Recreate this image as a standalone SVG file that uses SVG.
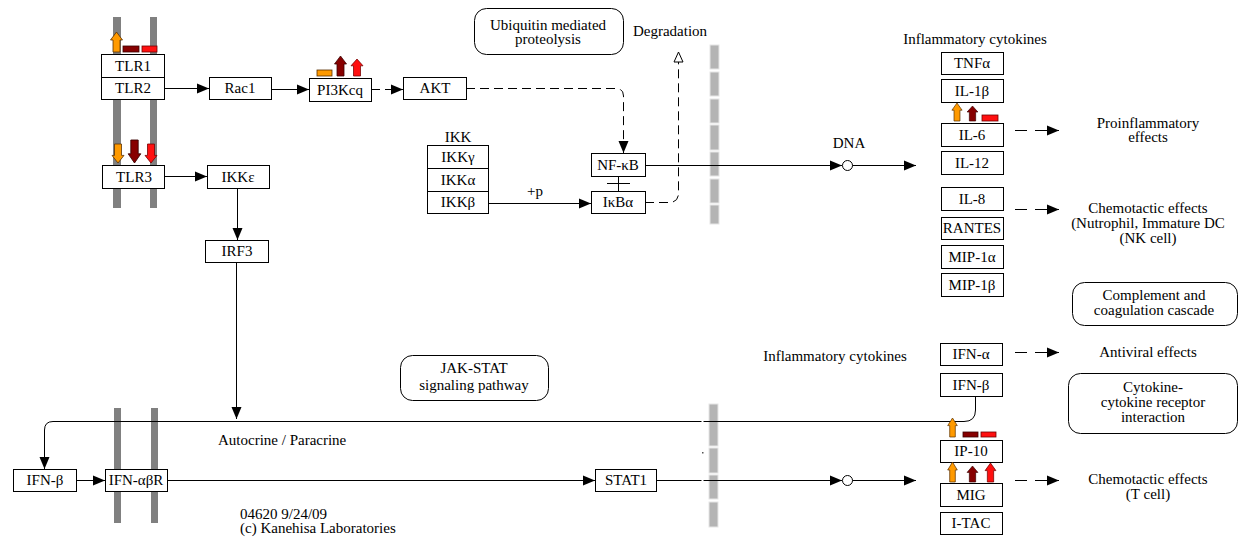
<svg xmlns="http://www.w3.org/2000/svg" xmlns:xlink="http://www.w3.org/1999/xlink" width="1239" height="537" viewBox="0 0 1239 537" font-family="'Liberation Serif', 'DejaVu Serif', serif" font-size="15">
<style>
text{font-family:"Liberation Serif","DejaVu Serif",serif;font-size:15px;fill:#000}
.c{text-anchor:middle}
.box{fill:#fff;stroke:#000;stroke-width:1}
.rbox{fill:#fff;stroke:#000;stroke-width:1}
.ln{fill:none;stroke:#000;stroke-width:1}
.dsh{fill:none;stroke:#000;stroke-width:1;stroke-dasharray:12,8}
.dsh2{fill:none;stroke:#000;stroke-width:1;stroke-dasharray:9,5}
.mem{fill:#808080}
.col{fill:#b4b4b4;stroke:#e6e6e6;stroke-width:1}
.org{fill:#ff9a00;stroke:#5a3000;stroke-width:0.8}
.dkr{fill:#870000;stroke:#3a0000;stroke-width:0.8}
.red{fill:#ff1010;stroke:#700000;stroke-width:0.8}
</style>
<defs>
<marker id="ah" markerUnits="userSpaceOnUse" markerWidth="14" markerHeight="12" refX="12" refY="5.5" orient="auto">
<path d="M0,0.5 L12,5.5 L0,10.5 Z" fill="#000"/>
</marker>
<marker id="oah" markerUnits="userSpaceOnUse" markerWidth="14" markerHeight="14" refX="11" refY="6" orient="auto">
<path d="M1,1.5 L11,6 L1,10.5 Z" fill="#fff" stroke="#000" stroke-width="1"/>
</marker>
<path id="up" d="M0,0 L6,8 L3.5,8 L3.5,20 L-3.5,20 L-3.5,8 L-6,8 Z"/>
</defs>

<g id="membranes">
<rect class="mem" x="113" y="17" width="8" height="191"/>
<rect class="mem" x="150" y="17" width="7" height="191"/>
<rect class="mem" x="114" y="408" width="7" height="115"/>
<rect class="mem" x="151" y="408" width="7" height="115"/>
</g>
<g id="nuclear-membrane">
<rect class="col" x="710" y="45" width="9" height="24"/>
<rect class="col" x="710" y="72" width="9" height="24"/>
<rect class="col" x="710" y="99" width="9" height="24"/>
<rect class="col" x="710" y="125" width="9" height="25"/>
<rect class="col" x="710" y="152" width="9" height="24"/>
<rect class="col" x="710" y="179" width="9" height="24"/>
<rect class="col" x="710" y="205" width="9" height="19"/>
<rect class="col" x="709" y="404" width="9" height="42"/>
<rect class="col" x="709" y="448" width="9" height="25"/>
<rect class="col" x="709" y="475" width="9" height="24"/>
<rect class="col" x="709" y="502" width="9" height="25"/>
<rect x="702" y="452" width="1.5" height="1.5" fill="#555"/>
</g>

<g id="connectors">
<path class="ln" d="M164,88.5 H209" marker-end="url(#ah)"/>
<path class="ln" d="M271,89.5 H309" marker-end="url(#ah)"/>
<path class="dsh2" d="M371,89.5 H403" marker-end="url(#ah)"/>
<path class="dsh2" d="M466,88.5 H616 Q623.5,88.5 623.5,96 V153" marker-end="url(#ah)"/>
<path class="ln" d="M164,176.5 H207" marker-end="url(#ah)"/>
<path class="ln" d="M237.5,188 V240" marker-end="url(#ah)"/>
<path class="ln" d="M236.5,262 V419" marker-end="url(#ah)"/>
<path class="ln" d="M488,203.5 H591" marker-end="url(#ah)"/>
<path class="ln" d="M618.5,176 V191 M607,183.5 H630"/>
<path class="dsh2" d="M645,202.5 H669 Q678.5,202.5 678.5,193 V52" marker-end="url(#oah)"/>
<path class="ln" d="M645,165.5 H842" marker-end="url(#ah)"/>
<circle cx="847.5" cy="165.5" r="5" fill="#fff" stroke="#000"/>
<path class="ln" d="M852.5,165.5 H916" marker-end="url(#ah)"/>
<path class="dsh" d="M1015,130.5 H1059" marker-end="url(#ah)"/>
<path class="dsh" d="M1015,209.5 H1059" marker-end="url(#ah)"/>
<path class="dsh" d="M1015,352.5 H1059" marker-end="url(#ah)"/>
<path class="dsh" d="M1015,480.5 H1059" marker-end="url(#ah)"/>
<path class="ln" d="M975.5,396 V410 Q975.5,421.5 964,421.5 H53 Q44.5,421.5 44.5,430 V469" marker-end="url(#ah)"/>
<path class="ln" d="M76,480.5 H105" marker-end="url(#ah)"/>
<path class="ln" d="M167,480.5 H595" marker-end="url(#ah)"/>
<path class="ln" d="M656,480.5 H842" marker-end="url(#ah)"/>
<circle cx="847.5" cy="480.5" r="5" fill="#fff" stroke="#000"/>
<path class="ln" d="M852.5,480.5 H916" marker-end="url(#ah)"/>
<rect x="701.5" y="418" width="2" height="6" fill="#fff"/>
<rect x="701.5" y="477" width="2" height="6" fill="#fff"/>
</g>

<g id="TLR1"><rect class="box" x="101.5" y="54.5" width="63" height="23"/><text class="c" x="133" y="71">TLR1</text></g>
<g id="TLR2"><rect class="box" x="101.5" y="77.5" width="63" height="22"/><text class="c" x="133" y="93">TLR2</text></g>
<g id="Rac1"><rect class="box" x="209.5" y="77.5" width="62" height="22"/><text class="c" x="240" y="93">Rac1</text></g>
<g id="PI3Kcq"><rect class="box" x="309.5" y="78.5" width="62" height="23"/><text class="c" x="340" y="95">PI3Kcq</text></g>
<g id="AKT"><rect class="box" x="403.5" y="77.5" width="63" height="22"/><text class="c" x="435" y="93">AKT</text></g>
<g id="TLR3"><rect class="box" x="102.5" y="165.5" width="62" height="23"/><text class="c" x="134" y="182">TLR3</text></g>
<g id="IKKe"><rect class="box" x="207.5" y="165.5" width="62" height="23"/><text class="c" x="238" y="182">IKKε</text></g>
<g id="IRF3"><rect class="box" x="205.5" y="240.5" width="63" height="22"/><text class="c" x="237" y="256">IRF3</text></g>
<g id="IKK">
<text class="c" x="458" y="142">IKK</text>
<rect class="box" x="427.5" y="145.5" width="61" height="23"/><text class="c" x="458" y="162">IKKγ</text>
<rect class="box" x="427.5" y="168.5" width="61" height="23"/><text class="c" x="458" y="185">IKKα</text>
<rect class="box" x="427.5" y="191.5" width="61" height="22"/><text class="c" x="458" y="207">IKKβ</text>
</g>
<g id="NFkB"><rect class="box" x="591.5" y="153.5" width="54" height="23"/><text class="c" x="618" y="170">NF-κB</text></g>
<g id="IkBa"><rect class="box" x="591.5" y="191.5" width="54" height="22"/><text class="c" x="618" y="207">IκBα</text></g>
<g id="Ubiquitin"><rect class="rbox" x="474.5" y="8.5" width="149" height="46" rx="12"/><text class="c" x="548" y="30">Ubiquitin mediated</text><text class="c" x="548" y="44">proteolysis</text></g>
<g id="Degradation"><text class="c" x="670" y="36">Degradation</text></g>
<g id="plusp"><text x="527" y="196">+p</text></g>
<g id="DNA"><text class="c" x="849" y="148">DNA</text></g>

<g id="cytokines-top">
<text class="c" x="975" y="44">Inflammatory cytokines</text>
<rect class="box" x="941.5" y="52.5" width="62" height="22"/><text class="c" x="972" y="68">TNFα</text>
<rect class="box" x="941.5" y="79.5" width="62" height="23"/><text class="c" x="972" y="96">IL-1β</text>
<rect class="box" x="941.5" y="123.5" width="62" height="23"/><text class="c" x="972" y="140">IL-6</text>
<rect class="box" x="941.5" y="151.5" width="62" height="23"/><text class="c" x="972" y="168">IL-12</text>
<rect class="box" x="941.5" y="187.5" width="62" height="23"/><text class="c" x="972" y="204">IL-8</text>
<rect class="box" x="941.5" y="217.5" width="62" height="22"/><text class="c" x="972" y="233">RANTES</text>
<rect class="box" x="941.5" y="245.5" width="62" height="23"/><text class="c" x="972" y="262">MIP-1α</text>
<rect class="box" x="941.5" y="273.5" width="62" height="23"/><text class="c" x="972" y="290">MIP-1β</text>
</g>
<g id="Proinflammatory"><text class="c" x="1148" y="128">Proinflammatory</text><text class="c" x="1148" y="142">effects</text></g>
<g id="Chemotactic1"><text class="c" x="1148" y="213">Chemotactic effects</text><text class="c" x="1148" y="228">(Nutrophil, Immature DC</text><text class="c" x="1148" y="243">(NK cell)</text></g>
<g id="Complement"><rect class="rbox" x="1072.5" y="282.5" width="165" height="43" rx="12"/><text class="c" x="1154" y="300">Complement and</text><text class="c" x="1154" y="315">coagulation cascade</text></g>
<g id="Antiviral"><text class="c" x="1148" y="357">Antiviral effects</text></g>
<g id="CytokineReceptor"><rect class="rbox" x="1068.5" y="373.5" width="169" height="60" rx="12"/><text class="c" x="1153" y="392">Cytokine-</text><text class="c" x="1153" y="407">cytokine receptor</text><text class="c" x="1153" y="422">interaction</text></g>

<g id="cytokines-bottom">
<text class="c" x="835" y="361">Inflammatory cytokines</text>
<rect class="box" x="940.5" y="343.5" width="62" height="22"/><text class="c" x="971" y="359">IFN-α</text>
<rect class="box" x="940.5" y="373.5" width="62" height="23"/><text class="c" x="971" y="390">IFN-β</text>
<rect class="box" x="940.5" y="440.5" width="62" height="22"/><text class="c" x="971" y="456">IP-10</text>
<rect class="box" x="940.5" y="483.5" width="62" height="23"/><text class="c" x="971" y="500">MIG</text>
<rect class="box" x="940.5" y="512.5" width="62" height="22"/><text class="c" x="971" y="528">I-TAC</text>
</g>
<g id="Chemotactic2"><text class="c" x="1148" y="484">Chemotactic effects</text><text class="c" x="1148" y="499">(T cell)</text></g>
<g id="JAKSTAT"><rect class="rbox" x="400.5" y="355.5" width="148" height="45" rx="12"/><text class="c" x="474" y="373">JAK-STAT</text><text class="c" x="474" y="390">signaling pathway</text></g>
<g id="IFNb-left"><rect class="box" x="13.5" y="469.5" width="63" height="22"/><text class="c" x="45" y="485">IFN-β</text></g>
<g id="IFNabR"><rect class="box" x="105.5" y="469.5" width="62" height="22"/><text class="c" x="136" y="485">IFN-αβR</text></g>
<g id="STAT1"><rect class="box" x="595.5" y="469.5" width="61" height="22"/><text class="c" x="626" y="485">STAT1</text></g>
<g id="Autocrine"><text x="218" y="445">Autocrine / Paracrine</text></g>
<g id="credit"><text x="240" y="519">04620 9/24/09</text><text x="240" y="533">(c) Kanehisa Laboratories</text></g>

<g id="markers">
<use xlink:href="#up" class="org" transform="translate(116.5,32)"/>
<rect class="dkr" x="123" y="46" width="16" height="6"/>
<rect class="red" x="142" y="46" width="15" height="6"/>
<rect class="org" x="317" y="70" width="15" height="6"/>
<use xlink:href="#up" class="dkr" transform="translate(340.5,56)"/>
<use xlink:href="#up" class="red" transform="translate(357,59) scale(1,0.85)"/>
<use xlink:href="#up" class="org" transform="translate(118,163) scale(1,-0.95)"/>
<use xlink:href="#up" class="dkr" transform="translate(134.5,163) scale(1.05,-1.15)"/>
<use xlink:href="#up" class="red" transform="translate(151,163) scale(1,-0.95)"/>
<use xlink:href="#up" class="org" transform="translate(957,103) scale(0.85,0.9)"/>
<use xlink:href="#up" class="dkr" transform="translate(972.5,106) scale(0.9,0.75)"/>
<rect class="red" x="982" y="115" width="16" height="6"/>
<use xlink:href="#up" class="org" transform="translate(952.5,418) scale(0.8,0.95)"/>
<rect class="dkr" x="963" y="432" width="15" height="5"/>
<rect class="red" x="981" y="432" width="15" height="5"/>
<use xlink:href="#up" class="org" transform="translate(952.5,462) scale(0.8,1)"/>
<use xlink:href="#up" class="dkr" transform="translate(972.5,466) scale(0.9,0.8)"/>
<use xlink:href="#up" class="red" transform="translate(990.5,463) scale(0.9,0.95)"/>
</g>
</svg>
